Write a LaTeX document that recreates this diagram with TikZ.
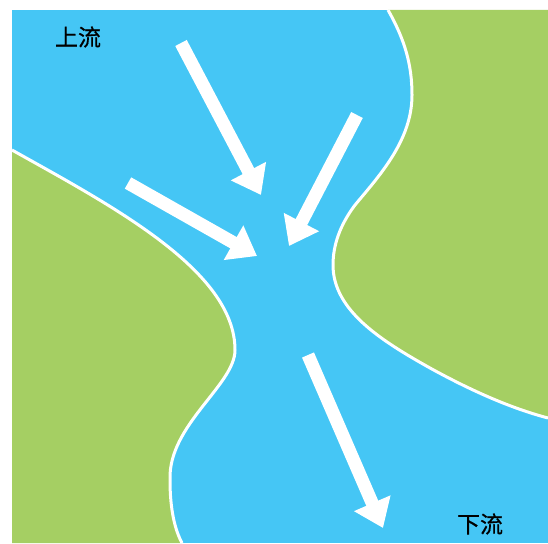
\documentclass[tikz,border=0pt]{standalone}
\usepackage{fontspec}
\newfontfamily\cjk[UprightFeatures={FakeBold=0.6}]{Noto Sans CJK SC}
\usetikzlibrary{arrows.meta}
\definecolor{water}{RGB}{69,198,245}
\definecolor{land}{RGB}{165,207,99}
\tikzset{
  flow/.style={white, line width=13pt, -{Triangle[width=38pt,length=27pt]}},
  bank/.style={white, line width=3pt},
  lbl/.style={font=\cjk\fontsize{23}{23}\selectfont, text=black, inner sep=0pt}
}
\begin{document}
\begin{tikzpicture}[x=1pt,y=-1pt]
\useasboundingbox (0,0) rectangle (548,543);
% river
\fill[water] (12,10) rectangle (548,543);
% left bank
\fill[land] (12,150) .. controls (110,205) and (235,270) .. (235,350)
  .. controls (235,385) and (168,425) .. (170,480)
  .. controls (170,510) and (175,530) .. (182,543) -- (12,543) -- cycle;
\draw[bank] (12,150) .. controls (110,205) and (235,270) .. (235,350)
  .. controls (235,385) and (168,425) .. (170,480)
  .. controls (170,510) and (175,530) .. (182,543);
% right bank
\fill[land] (388,10) .. controls (405,40) and (412,65) .. (412,95)
  .. controls (412,140) and (380,175) .. (355,205)
  .. controls (340,225) and (333,245) .. (333,265)
  .. controls (333,310) and (380,340) .. (430,368)
  .. controls (470,390) and (510,408) .. (548,418) -- (548,10) -- cycle;
\draw[bank] (388,10) .. controls (405,40) and (412,65) .. (412,95)
  .. controls (412,140) and (380,175) .. (355,205)
  .. controls (340,225) and (333,245) .. (333,265)
  .. controls (333,310) and (380,340) .. (430,368)
  .. controls (470,390) and (510,408) .. (548,418);
% flow arrows
\coordinate (a1s) at (181,43);  \coordinate (a1e) at (261,195);
\coordinate (a2s) at (128,183); \coordinate (a2e) at (257,256);
\coordinate (a3s) at (357,115); \coordinate (a3e) at (289,246);
\coordinate (a4s) at (308,355); \coordinate (a4e) at (383,528);
\draw[flow] (a1s) -- (a1e);
\draw[flow] (a2s) -- (a2e);
\draw[flow] (a3s) -- (a3e);
\draw[flow] (a4s) -- (a4e);
% labels
\node[lbl] (up) at (78,37) {上流};
\node[lbl] (down) at (480,524) {下流};
\end{tikzpicture}
\end{document}
